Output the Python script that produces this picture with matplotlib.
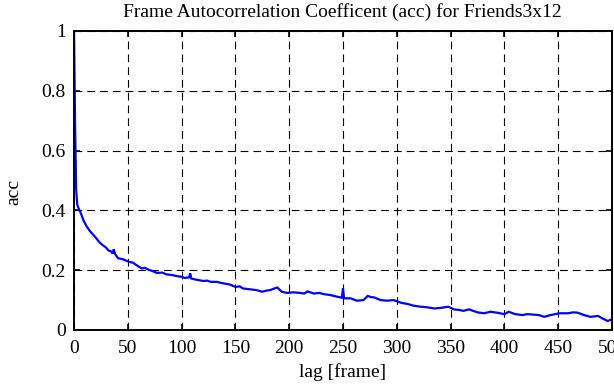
import matplotlib
matplotlib.use("Agg")
import matplotlib.pyplot as plt

# acc curve (lag in frames)
lags = [0, 1, 2, 3, 5, 6, 9, 12, 15, 18, 20, 24, 27, 30, 32, 35, 36, 37, 38, 41,
        46, 51, 55, 58, 63, 66, 69, 73, 77, 82, 86, 91, 96, 100, 103, 107, 108,
        109, 114, 120, 124, 127, 133, 136, 139, 145, 150, 154, 157, 164, 170,
        175, 179, 182, 187, 189, 193, 198, 204, 210, 214, 217, 223, 228, 232,
        238, 245, 249, 250, 251, 257, 263, 269, 273, 276, 279, 285, 291, 297,
        304, 310, 316, 322, 328, 335, 341, 348, 353, 358, 362, 367, 371, 375,
        381, 387, 393, 400, 404, 410, 417, 421, 425, 432, 437, 443, 451, 459,
        464, 468, 474, 480, 487, 491, 496, 500]
acc = [1.0, 0.69, 0.47, 0.42, 0.40, 0.394, 0.365, 0.345, 0.33, 0.318, 0.31,
       0.292, 0.283, 0.275, 0.266, 0.262, 0.256, 0.27, 0.255, 0.24,
       0.236, 0.228, 0.225, 0.217, 0.206, 0.208, 0.202, 0.197, 0.191, 0.192,
       0.186, 0.184, 0.18, 0.178, 0.174, 0.176, 0.189,
       0.172, 0.168, 0.164, 0.165, 0.161, 0.161, 0.158, 0.156, 0.152, 0.144,
       0.146, 0.139, 0.136, 0.133,
       0.128, 0.132, 0.133, 0.14, 0.142, 0.128, 0.124, 0.126, 0.124, 0.122,
       0.129, 0.122, 0.124, 0.12,
       0.117, 0.111, 0.108, 0.139, 0.106, 0.106, 0.098, 0.1, 0.114, 0.11,
       0.109, 0.1, 0.098, 0.1,
       0.091, 0.087, 0.081, 0.078, 0.076, 0.072, 0.074, 0.078, 0.069, 0.067,
       0.064, 0.069, 0.064, 0.059,
       0.056, 0.061, 0.058, 0.053, 0.061, 0.053, 0.05, 0.053, 0.052, 0.05,
       0.044, 0.05, 0.056, 0.056,
       0.059, 0.058, 0.05, 0.044, 0.047, 0.039, 0.03, 0.036]

xticks = [0, 50, 100, 150, 200, 250, 300, 350, 400, 450, 500]
yticks = [0, 0.2, 0.4, 0.6, 0.8, 1]
ytick_labels = ["0", "0.2", "0.4", "0.6", "0.8", "1"]

FS = 14

plt.rcParams["font.family"] = ["Liberation Serif", "DejaVu Serif"]
plt.rcParams["font.size"] = FS

fig = plt.figure(figsize=(6.14, 3.85), dpi=100)
ax = fig.add_axes([74 / 614, 55 / 385, 538 / 614, 299 / 385])

ax.plot(lags, acc, color="#0000ff", lw=1.6, solid_joinstyle="miter")

ax.set_xlim(0, 500)
ax.set_ylim(0, 1)
ax.set_xticks(xticks)
ax.set_yticks(yticks)
ax.set_yticklabels(ytick_labels)
ax.tick_params(direction="in", length=4.5, width=1.2, top=True, right=True,
               color="black", labelsize=FS)
ax.tick_params(axis="y", pad=6)
ax.tick_params(axis="x", pad=7)
ax.grid(True, color="black", lw=0.8, linestyle=(0, (7, 4.5)))
for s in ax.spines.values():
    s.set_linewidth(1.4)

fig.text(342 / 614, 1 - 12 / 385, "Frame Autocorrelation Coefficent (acc) for Friends3x12",
         ha="center", va="center", fontsize=FS)
fig.text(343 / 614, 1 - 372 / 385, "lag [frame]", ha="center", va="center", fontsize=FS)
fig.text(14 / 614, 1 - 192 / 385, "acc", ha="center", va="center", rotation=90,
         fontsize=FS)

fig.savefig("out.png", dpi=100)
